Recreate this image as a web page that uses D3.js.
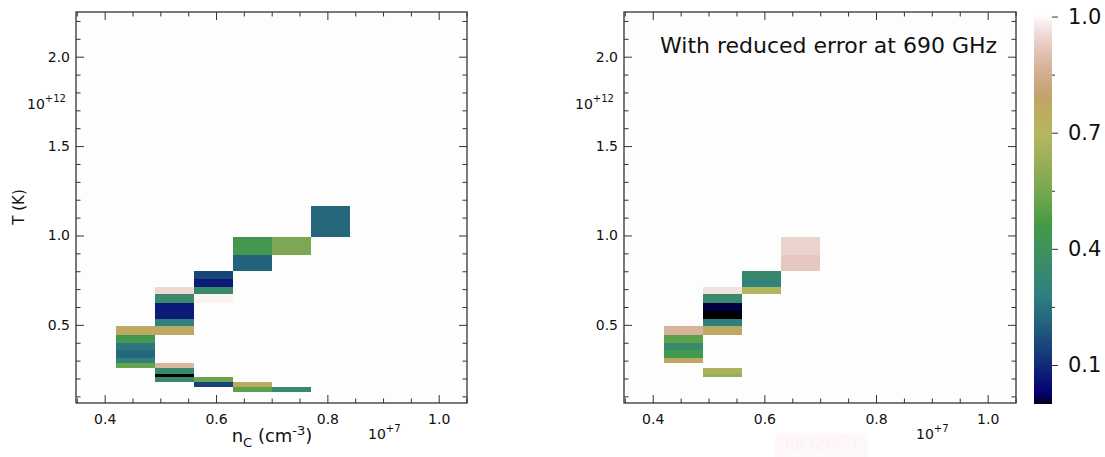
<!DOCTYPE html>
<html>
<head>
<meta charset="utf-8">
<script src="https://cdn.jsdelivr.net/npm/d3@7"></script>
<style>
  html, body { margin: 0; padding: 0; background: #fff; }
  svg { display: block; font-family: "DejaVu Sans", sans-serif; }
  .tick text { fill: #111; }
</style>
</head>
<body>
<div id="chart"></div>
<script>
// n_c in units of 1e7 cm^-3, T in units of 1e12 K
const nBinWidth = 0.07;
const xMajorTicks = [0.4, 0.6, 0.8, 1.0];
const xMinorTicks = [0.35, 0.45, 0.5, 0.55, 0.65, 0.7, 0.75, 0.85, 0.9, 0.95, 1.05];
const yMajorTicks = [0.5, 1.0, 1.5, 2.0];
const yMinorTicks = [0.1, 0.2, 0.3, 0.4, 0.6, 0.7, 0.8, 0.9, 1.1, 1.2, 1.3, 1.4, 1.6, 1.7, 1.8, 1.9, 2.1, 2.2];
const cbarMajorTicks = [0.1, 0.4, 0.7, 1.0];
const cbarMinorTicks = [0.25, 0.55, 0.85];

// [n_c bin start, T low, T high, fraction]
const leftCells = [
  [0.77, 0.990, 1.167, 0.22],
  [0.70, 0.889, 0.990, 0.56],
  [0.63, 0.889, 0.990, 0.44],
  [0.63, 0.804, 0.889, 0.21],
  [0.56, 0.759, 0.804, 0.15],
  [0.56, 0.714, 0.759, 0.07],
  [0.56, 0.670, 0.714, 0.35],
  [0.56, 0.625, 0.670, 0.99],
  [0.56, 0.178, 0.206, 0.52],
  [0.56, 0.150, 0.178, 0.14],
  [0.49, 0.670, 0.714, 0.95],
  [0.49, 0.625, 0.670, 0.35],
  [0.49, 0.580, 0.625, 0.07],
  [0.49, 0.535, 0.580, 0.075],
  [0.49, 0.491, 0.535, 0.29],
  [0.49, 0.446, 0.491, 0.76],
  [0.49, 0.258, 0.286, 0.88],
  [0.49, 0.228, 0.258, 0.34],
  [0.49, 0.206, 0.228, 0.0],
  [0.49, 0.178, 0.206, 0.34],
  [0.42, 0.446, 0.491, 0.76],
  [0.42, 0.401, 0.446, 0.44],
  [0.42, 0.357, 0.401, 0.26],
  [0.42, 0.312, 0.357, 0.22],
  [0.42, 0.286, 0.312, 0.29],
  [0.42, 0.258, 0.286, 0.52],
  [0.63, 0.150, 0.178, 0.76],
  [0.63, 0.122, 0.150, 0.50],
  [0.70, 0.122, 0.150, 0.34],
];

const rightCells = [
  [0.63, 0.889, 0.990, 0.94],
  [0.63, 0.804, 0.889, 0.92],
  [0.56, 0.759, 0.804, 0.34],
  [0.56, 0.714, 0.759, 0.30],
  [0.56, 0.670, 0.714, 0.69],
  [0.49, 0.670, 0.714, 0.965],
  [0.49, 0.625, 0.670, 0.35],
  [0.49, 0.580, 0.625, 0.012],
  [0.49, 0.535, 0.580, 0.0],
  [0.49, 0.491, 0.535, 0.28],
  [0.49, 0.446, 0.491, 0.76],
  [0.49, 0.228, 0.258, 0.67],
  [0.49, 0.206, 0.228, 0.62],
  [0.42, 0.446, 0.491, 0.87],
  [0.42, 0.401, 0.446, 0.50],
  [0.42, 0.357, 0.401, 0.35],
  [0.42, 0.312, 0.357, 0.44],
  [0.42, 0.286, 0.312, 0.76],
];

// matplotlib gist_earth segment nodes
const earthRed = [[0, 0], [0.2824, 0.1882], [0.4588, 0.2714], [0.5490, 0.4719], [0.6980, 0.7176], [0.7882, 0.7553], [1, 0.9922]];
const earthGreen = [[0, 0], [0.0275, 0], [0.1098, 0.1893], [0.1647, 0.3035], [0.2078, 0.3841], [0.2824, 0.5020], [0.5216, 0.6397], [0.6980, 0.7171], [0.7882, 0.6392], [0.7922, 0.6413], [0.8000, 0.6447], [0.8078, 0.6481], [0.8157, 0.6549], [0.8667, 0.6991], [0.8745, 0.7103], [0.8824, 0.7216], [0.8902, 0.7323], [0.8980, 0.7430], [0.9412, 0.8275], [0.9569, 0.8635], [0.9647, 0.8816], [0.9961, 0.9733], [1, 0.9843]];
const earthBlue = [[0, 0], [0.0039, 0.1684], [0.0078, 0.2212], [0.0275, 0.4329], [0.0314, 0.4549], [0.2824, 0.5004], [0.4667, 0.2748], [0.5451, 0.3205], [0.7843, 0.3961], [0.8941, 0.6651], [1, 0.9843]];

const channel = (nodes) => d3.scaleLinear().domain(nodes.map((d) => d[0])).range(nodes.map((d) => d[1] * 255)).clamp(true);
const rScale = channel(earthRed);
const gScale = channel(earthGreen);
const bScale = channel(earthBlue);
const gistEarth = (v) => d3.rgb(rScale(v), gScale(v), bScale(v)).formatHex();

const width = 1105;
const height = 457;
const xDomain = [0.3485, 1.0508];
const yDomain = [0.063, 2.25];
const panels = [
  { left: 76, right: 467, top: 12, bottom: 403, cells: leftCells },
  { left: 624, right: 1016, top: 12, bottom: 403, cells: rightCells },
];

const svg = d3.select("#chart").append("svg").attr("width", width).attr("height", height);
svg.append("rect").attr("width", width).attr("height", height).attr("fill", "#fff");

function styleAxis(g) {
  g.select(".domain").remove();
  g.selectAll(".tick line").attr("stroke", "#333").attr("stroke-width", 1);
  return g;
}

panels.forEach((p) => {
  const x = d3.scaleLinear().domain(xDomain).range([p.left, p.right]);
  const y = d3.scaleLinear().domain(yDomain).range([p.bottom, p.top]);
  const g = svg.append("g");

  g.append("rect")
    .attr("x", p.left).attr("y", p.top)
    .attr("width", p.right - p.left).attr("height", p.bottom - p.top)
    .attr("fill", "#fdfdfd");

  g.append("g")
    .attr("shape-rendering", "crispEdges")
    .selectAll("rect")
    .data(p.cells)
    .join("rect")
    .attr("x", (d) => x(d[0]))
    .attr("width", (d) => x(d[0] + nBinWidth) - x(d[0]))
    .attr("y", (d) => y(d[2]))
    .attr("height", (d) => y(d[1]) - y(d[2]))
    .attr("fill", (d) => gistEarth(d[3]));

  // bottom
  g.append("g").attr("transform", `translate(0,${p.bottom})`)
    .call(d3.axisBottom(x).tickValues(xMajorTicks).tickSize(-8).tickPadding(11).tickFormat(d3.format(".1f")))
    .call(styleAxis)
    .call((a) => a.selectAll("text").attr("font-size", 14).attr("font-family", "DejaVu Sans"));
  g.append("g").attr("transform", `translate(0,${p.bottom})`)
    .call(d3.axisBottom(x).tickValues(xMinorTicks).tickSize(-4.5).tickFormat(""))
    .call(styleAxis);
  // top
  g.append("g").attr("transform", `translate(0,${p.top})`)
    .call(d3.axisTop(x).tickValues(xMajorTicks).tickSize(-8).tickFormat(""))
    .call(styleAxis);
  g.append("g").attr("transform", `translate(0,${p.top})`)
    .call(d3.axisTop(x).tickValues(xMinorTicks).tickSize(-4.5).tickFormat(""))
    .call(styleAxis);
  // left
  g.append("g").attr("transform", `translate(${p.left},0)`)
    .call(d3.axisLeft(y).tickValues(yMajorTicks).tickSize(-8).tickPadding(6).tickFormat(d3.format(".1f")))
    .call(styleAxis)
    .call((a) => a.selectAll("text").attr("font-size", 14).attr("font-family", "DejaVu Sans"));
  g.append("g").attr("transform", `translate(${p.left},0)`)
    .call(d3.axisLeft(y).tickValues(yMinorTicks).tickSize(-4.5).tickFormat(""))
    .call(styleAxis);
  // right
  g.append("g").attr("transform", `translate(${p.right},0)`)
    .call(d3.axisRight(y).tickValues(yMajorTicks).tickSize(-8).tickFormat(""))
    .call(styleAxis);
  g.append("g").attr("transform", `translate(${p.right},0)`)
    .call(d3.axisRight(y).tickValues(yMinorTicks).tickSize(-4.5).tickFormat(""))
    .call(styleAxis);

  g.append("rect")
    .attr("x", p.left).attr("y", p.top)
    .attr("width", p.right - p.left).attr("height", p.bottom - p.top)
    .attr("fill", "none").attr("stroke", "#333").attr("stroke-width", 1.3);

  // offset texts
  const yOff = g.append("text").attr("x", p.left - 49).attr("y", 108.5).attr("font-size", 14).attr("fill", "#111");
  yOff.append("tspan").text("10");
  yOff.append("tspan").attr("dy", -7).attr("font-size", 10).text("+12");
  const xOff = g.append("text").attr("x", p.left + 292).attr("y", 438.5).attr("font-size", 14).attr("fill", "#111");
  xOff.append("tspan").text("10");
  xOff.append("tspan").attr("dy", -7).attr("font-size", 10).text("+7");
});

// left panel labels
svg.append("text")
  .attr("transform", "translate(24,207) rotate(-90)")
  .attr("text-anchor", "middle")
  .attr("font-size", 15)
  .attr("fill", "#111")
  .text("T (K)");

const xLabel = svg.append("text")
  .attr("x", 272).attr("y", 442)
  .attr("text-anchor", "middle")
  .attr("font-size", 18)
  .attr("fill", "#111");
xLabel.append("tspan").text("n");
xLabel.append("tspan").attr("dy", 5).attr("font-size", 13).text("C");
xLabel.append("tspan").attr("dy", -5).text(" (cm");
xLabel.append("tspan").attr("dy", -7).attr("font-size", 13).text("-3");
xLabel.append("tspan").attr("dy", 7).text(")");

// right panel: faint x label and annotation
svg.append("rect")
  .attr("x", 775).attr("y", 433).attr("width", 93).attr("height", 30).attr("rx", 4)
  .attr("fill", "#fff8fa");
const faint = svg.append("text")
  .attr("x", 821).attr("y", 450)
  .attr("text-anchor", "middle")
  .attr("font-size", 16)
  .attr("fill", "#fdf1f5");
faint.append("tspan").text("ne (cm");
faint.append("tspan").attr("dy", -6).attr("font-size", 11).text("-3");
faint.append("tspan").attr("dy", 6).text(")");

svg.append("text")
  .attr("x", 660).attr("y", 53)
  .attr("font-size", 22)
  .attr("fill", "#111")
  .text("With reduced error at 690 GHz");

// colorbar
const cbar = { left: 1034, right: 1052, top: 15, bottom: 403.7 };
const cScale = d3.scaleLinear().domain([0, 1.004]).range([cbar.bottom, cbar.top]);
const bands = d3.range(256).map((k) => k / 255);
svg.append("g")
  .attr("shape-rendering", "crispEdges")
  .selectAll("rect")
  .data(bands)
  .join("rect")
  .attr("x", cbar.left)
  .attr("width", cbar.right - cbar.left)
  .attr("y", (d) => cScale(Math.min(d + 1 / 255, 1.004)))
  .attr("height", (d) => cScale(d) - cScale(Math.min(d + 1 / 255, 1.004)) + 0.5)
  .attr("fill", (d) => gistEarth(d));

svg.append("g").attr("transform", `translate(${cbar.right},0)`)
  .call(d3.axisRight(cScale).tickValues(cbarMajorTicks).tickSize(6).tickPadding(10).tickFormat(d3.format(".1f")))
  .call(styleAxis)
  .call((a) => a.selectAll("text").attr("font-size", 21).attr("font-family", "DejaVu Sans"));
svg.append("g").attr("transform", `translate(${cbar.right},0)`)
  .call(d3.axisRight(cScale).tickValues(cbarMinorTicks).tickSize(3).tickFormat(""))
  .call(styleAxis);
</script>
</body>
</html>
